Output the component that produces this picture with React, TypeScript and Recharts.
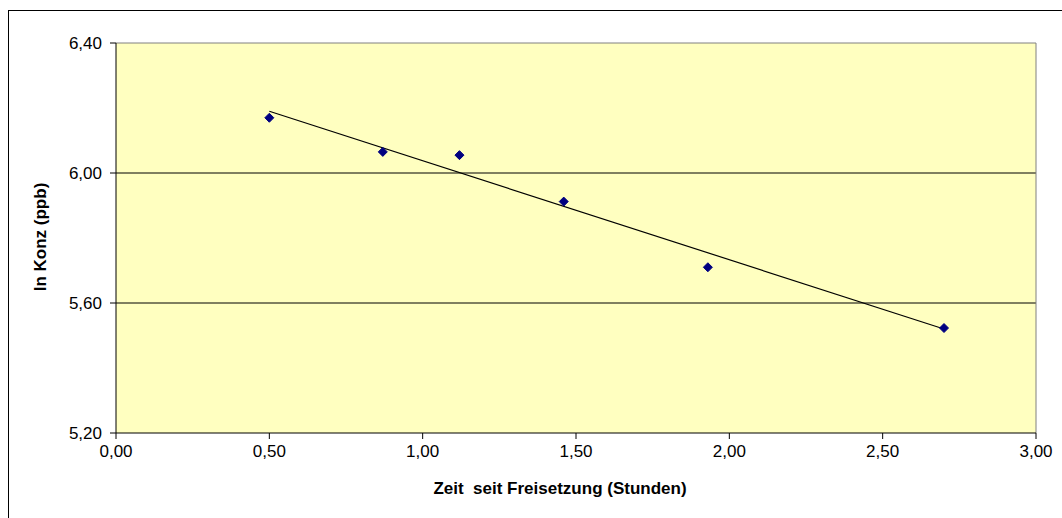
import React from 'react';
import {
  ScatterChart,
  Scatter,
  XAxis,
  YAxis,
  ReferenceArea,
  ReferenceLine,
} from 'recharts';

const timeHours = [0.5, 0.87, 1.12, 1.46, 1.93, 2.7];
const lnConc = [6.17, 6.065, 6.055, 5.912, 5.71, 5.523];

// Trendlinie, Endpunkte
const trendX = [0.5, 2.7];
const trendY = [6.19, 5.52];

const xTicks = [0, 0.5, 1, 1.5, 2, 2.5, 3];
const yTicks = [5.2, 5.6, 6.0, 6.4];
const gridLevels = [5.6, 6.0];

const points = timeHours.map((x, i) => ({ x, y: lnConc[i] }));
const trend = trendX.map((x, i) => ({ x, y: trendY[i] }));

const FONT = "Arial, 'Liberation Sans', sans-serif";
const fmt = (v: number) => v.toFixed(2).replace('.', ',');

const Diamond = (props: any) => {
  const { cx, cy } = props;
  if (cx == null || cy == null) return <g />;
  const r = 4.5;
  return (
    <polygon
      points={`${cx},${cy - r} ${cx + r},${cy} ${cx},${cy + r} ${cx - r},${cy}`}
      fill="#000080"
      stroke="#000080"
    />
  );
};

const NoDot = () => <g />;

const XTitle = (props: any) => {
  const vb = props.viewBox;
  return (
    <text
      x={vb.x + vb.width / 2 - 16}
      y={vb.y + 61}
      textAnchor="middle"
      fontFamily={FONT}
      fontSize={17}
      fontWeight="bold"
      fill="#000"
      style={{ whiteSpace: 'pre' }}
    >
      {'Zeit  seit Freisetzung (Stunden)'}
    </text>
  );
};

const YTitle = (props: any) => {
  const vb = props.viewBox;
  const x = 31;
  const y = vb.y + vb.height / 2 - 1;
  return (
    <text
      x={x}
      y={y}
      transform={`rotate(-90, ${x}, ${y})`}
      textAnchor="middle"
      dominantBaseline="central"
      fontFamily={FONT}
      fontSize={17}
      fontWeight="bold"
      fill="#000"
    >
      ln Konz (ppb)
    </text>
  );
};

export default function App() {
  return (
    <div
      style={{
        position: 'absolute',
        left: 8,
        top: 10,
        width: 1054,
        height: 520,
        borderLeft: '1px solid #000',
        borderTop: '1px solid #000',
        background: '#fff',
      }}
    >
      <ScatterChart
        width={1053}
        height={507}
        margin={{ top: 32, right: 26, bottom: 25, left: 0 }}
      >
        <XAxis
          type="number"
          dataKey="x"
          domain={[0, 3]}
          ticks={xTicks}
          tickFormatter={fmt}
          interval={0}
          height={60}
          axisLine={{ stroke: '#000' }}
          tickLine={{ stroke: '#000' }}
          tickSize={6}
          tickMargin={6}
          tick={{ fill: '#000', fontSize: 17, fontFamily: FONT }}
          label={<XTitle />}
        />
        <YAxis
          type="number"
          dataKey="y"
          domain={[5.2, 6.4]}
          ticks={yTicks}
          tickFormatter={fmt}
          interval={0}
          width={107}
          axisLine={{ stroke: '#000' }}
          tickLine={{ stroke: '#000' }}
          tickSize={6}
          tickMargin={8}
          tick={{ fill: '#000', fontSize: 17, fontFamily: FONT }}
          label={<YTitle />}
        />
        <ReferenceArea
          x1={0}
          x2={3}
          y1={5.2}
          y2={6.4}
          fill="#FFFFC0"
          fillOpacity={1}
          stroke="none"
        />
        {gridLevels.map((v) => (
          <ReferenceLine key={v} y={v} stroke="#000" strokeWidth={1} />
        ))}
        <ReferenceLine y={6.4} stroke="#808080" />
        <ReferenceLine x={3} stroke="#808080" />
        <Scatter
          data={trend}
          line={{ stroke: '#000', strokeWidth: 1.2 }}
          shape={<NoDot />}
          isAnimationActive={false}
        />
        <Scatter data={points} shape={<Diamond />} isAnimationActive={false} />
      </ScatterChart>
    </div>
  );
}
